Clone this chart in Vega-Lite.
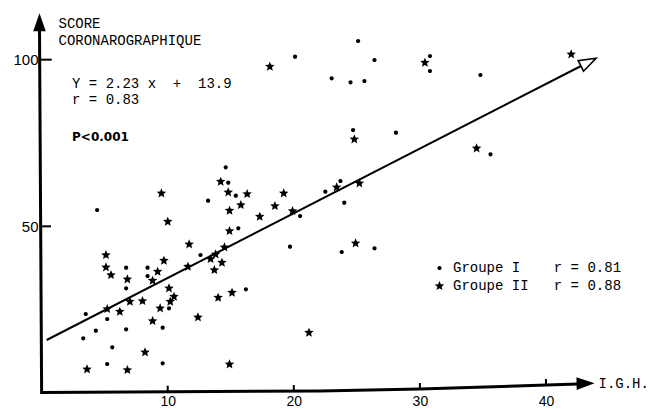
{
  "$schema": "https://vega.github.io/schema/vega-lite/v6.json",
  "width": 648,
  "height": 409,
  "autosize": {"type": "none"},
  "padding": 0,
  "background": "white",
  "config": {"view": {"stroke": null}, "axis": {"grid": false}},
  "datasets": {
    "points": [
      {"igh": 20.1, "score": 100.9, "groupe": "Groupe I"},
      {"igh": 25.1, "score": 105.6, "groupe": "Groupe I"},
      {"igh": 26.4, "score": 99.9, "groupe": "Groupe I"},
      {"igh": 23.0, "score": 94.4, "groupe": "Groupe I"},
      {"igh": 24.5, "score": 93.2, "groupe": "Groupe I"},
      {"igh": 25.6, "score": 93.6, "groupe": "Groupe I"},
      {"igh": 30.8, "score": 101.1, "groupe": "Groupe I"},
      {"igh": 30.8, "score": 96.6, "groupe": "Groupe I"},
      {"igh": 24.7, "score": 78.9, "groupe": "Groupe I"},
      {"igh": 28.1, "score": 78.1, "groupe": "Groupe I"},
      {"igh": 34.8, "score": 95.4, "groupe": "Groupe I"},
      {"igh": 35.6, "score": 71.6, "groupe": "Groupe I"},
      {"igh": 20.5, "score": 53.1, "groupe": "Groupe I"},
      {"igh": 22.5, "score": 60.4, "groupe": "Groupe I"},
      {"igh": 23.7, "score": 63.6, "groupe": "Groupe I"},
      {"igh": 24.0, "score": 57.1, "groupe": "Groupe I"},
      {"igh": 19.7, "score": 43.9, "groupe": "Groupe I"},
      {"igh": 23.8, "score": 42.3, "groupe": "Groupe I"},
      {"igh": 26.4, "score": 43.4, "groupe": "Groupe I"},
      {"igh": 14.6, "score": 67.7, "groupe": "Groupe I"},
      {"igh": 14.8, "score": 63.1, "groupe": "Groupe I"},
      {"igh": 15.4, "score": 59.2, "groupe": "Groupe I"},
      {"igh": 13.2, "score": 57.7, "groupe": "Groupe I"},
      {"igh": 15.6, "score": 49.4, "groupe": "Groupe I"},
      {"igh": 12.6, "score": 41.4, "groupe": "Groupe I"},
      {"igh": 4.4, "score": 54.9, "groupe": "Groupe I"},
      {"igh": 8.4, "score": 37.6, "groupe": "Groupe I"},
      {"igh": 8.4, "score": 35.1, "groupe": "Groupe I"},
      {"igh": 6.7, "score": 37.6, "groupe": "Groupe I"},
      {"igh": 6.7, "score": 31.4, "groupe": "Groupe I"},
      {"igh": 10.1, "score": 25.4, "groupe": "Groupe I"},
      {"igh": 9.6, "score": 19.6, "groupe": "Groupe I"},
      {"igh": 6.7, "score": 19.1, "groupe": "Groupe I"},
      {"igh": 5.2, "score": 22.2, "groupe": "Groupe I"},
      {"igh": 3.5, "score": 23.7, "groupe": "Groupe I"},
      {"igh": 3.3, "score": 16.4, "groupe": "Groupe I"},
      {"igh": 4.3, "score": 18.7, "groupe": "Groupe I"},
      {"igh": 5.6, "score": 13.7, "groupe": "Groupe I"},
      {"igh": 5.2, "score": 8.7, "groupe": "Groupe I"},
      {"igh": 9.6, "score": 8.9, "groupe": "Groupe I"},
      {"igh": 16.2, "score": 31.1, "groupe": "Groupe I"},
      {"igh": 18.1, "score": 97.9, "groupe": "Groupe II"},
      {"igh": 30.4, "score": 99.1, "groupe": "Groupe II"},
      {"igh": 24.8, "score": 76.1, "groupe": "Groupe II"},
      {"igh": 42.0, "score": 101.6, "groupe": "Groupe II"},
      {"igh": 34.5, "score": 73.4, "groupe": "Groupe II"},
      {"igh": 17.3, "score": 52.9, "groupe": "Groupe II"},
      {"igh": 18.5, "score": 56.1, "groupe": "Groupe II"},
      {"igh": 19.2, "score": 59.9, "groupe": "Groupe II"},
      {"igh": 19.9, "score": 54.6, "groupe": "Groupe II"},
      {"igh": 23.4, "score": 61.7, "groupe": "Groupe II"},
      {"igh": 25.2, "score": 62.9, "groupe": "Groupe II"},
      {"igh": 24.9, "score": 44.9, "groupe": "Groupe II"},
      {"igh": 21.2, "score": 18.1, "groupe": "Groupe II"},
      {"igh": 14.2, "score": 63.4, "groupe": "Groupe II"},
      {"igh": 9.5, "score": 59.9, "groupe": "Groupe II"},
      {"igh": 14.8, "score": 60.2, "groupe": "Groupe II"},
      {"igh": 16.3, "score": 59.7, "groupe": "Groupe II"},
      {"igh": 14.9, "score": 54.7, "groupe": "Groupe II"},
      {"igh": 15.8, "score": 56.4, "groupe": "Groupe II"},
      {"igh": 10.0, "score": 51.4, "groupe": "Groupe II"},
      {"igh": 14.9, "score": 48.6, "groupe": "Groupe II"},
      {"igh": 11.7, "score": 44.6, "groupe": "Groupe II"},
      {"igh": 14.5, "score": 43.7, "groupe": "Groupe II"},
      {"igh": 13.4, "score": 40.2, "groupe": "Groupe II"},
      {"igh": 13.8, "score": 41.6, "groupe": "Groupe II"},
      {"igh": 14.3, "score": 39.1, "groupe": "Groupe II"},
      {"igh": 13.7, "score": 36.9, "groupe": "Groupe II"},
      {"igh": 9.7, "score": 39.7, "groupe": "Groupe II"},
      {"igh": 9.2, "score": 36.4, "groupe": "Groupe II"},
      {"igh": 11.6, "score": 37.9, "groupe": "Groupe II"},
      {"igh": 8.8, "score": 33.7, "groupe": "Groupe II"},
      {"igh": 6.8, "score": 34.1, "groupe": "Groupe II"},
      {"igh": 5.1, "score": 41.4, "groupe": "Groupe II"},
      {"igh": 5.1, "score": 37.7, "groupe": "Groupe II"},
      {"igh": 5.5, "score": 35.4, "groupe": "Groupe II"},
      {"igh": 10.1, "score": 31.4, "groupe": "Groupe II"},
      {"igh": 10.5, "score": 28.9, "groupe": "Groupe II"},
      {"igh": 10.2, "score": 27.4, "groupe": "Groupe II"},
      {"igh": 9.4, "score": 25.4, "groupe": "Groupe II"},
      {"igh": 8.8, "score": 21.6, "groupe": "Groupe II"},
      {"igh": 8.0, "score": 27.6, "groupe": "Groupe II"},
      {"igh": 7.0, "score": 27.4, "groupe": "Groupe II"},
      {"igh": 6.2, "score": 24.4, "groupe": "Groupe II"},
      {"igh": 5.2, "score": 25.2, "groupe": "Groupe II"},
      {"igh": 8.2, "score": 12.2, "groupe": "Groupe II"},
      {"igh": 3.6, "score": 7.1, "groupe": "Groupe II"},
      {"igh": 6.8, "score": 6.9, "groupe": "Groupe II"},
      {"igh": 14.9, "score": 8.6, "groupe": "Groupe II"},
      {"igh": 12.4, "score": 22.7, "groupe": "Groupe II"},
      {"igh": 14.0, "score": 28.6, "groupe": "Groupe II"},
      {"igh": 15.1, "score": 30.1, "groupe": "Groupe II"}
    ],
    "axes": [
      {"axis": "x", "ord": 0, "igh": 0.03, "score": 0.15},
      {"axis": "x", "ord": 1, "igh": 22.08, "score": 0.6},
      {"axis": "x", "ord": 2, "igh": 30.0, "score": 1.2},
      {"axis": "x", "ord": 3, "igh": 42.54, "score": 2.7},
      {"axis": "y", "ord": 0, "igh": 0.0, "score": -0.3},
      {"axis": "y", "ord": 1, "igh": -0.17, "score": 108.9}
    ],
    "ticks": [
      {"igh": 10, "score": 0.4, "igh2": 10, "score2": 2.2},
      {"igh": 20, "score": 0.6, "igh2": 20, "score2": 2.4},
      {"igh": 30, "score": 1.2, "igh2": 30, "score2": 3.0},
      {"igh": 40, "score": 2.4, "igh2": 40, "score2": 4.2},
      {"igh": -0.19, "score": 100, "igh2": 0.8, "score2": 100},
      {"igh": 0, "score": 50, "igh2": 0.74, "score2": 50}
    ],
    "xarrow": [{"igh": 43.14, "score": 2.85}],
    "yarrow": [{"igh": -0.17, "score": 111.2}],
    "regression": [
      {"igh": 0.4, "score": 15.9},
      {"igh": 42.78, "score": 98.1}
    ],
    "regarrow": [{"igh": 43.37, "score": 99.27}],
    "notes": [
      {"igh": 2.41, "score": 92.7, "text": "Y = 2.23 x\u00a0\u00a0+\u00a0\u00a013.9"},
      {"igh": 2.41, "score": 88.05, "text": "r = 0.83"}
    ],
    "pnote": [{"igh": 2.41, "score": 76.8, "text": "P<0.001"}]
  },
  "encoding": {
    "x": {
      "field": "igh",
      "type": "quantitative",
      "scale": {"domain": [-3.303, 48.093], "nice": false, "zero": false},
      "axis": {
        "orient": "bottom",
        "offset": -16,
        "values": [10, 20, 30, 40],
        "domain": false,
        "ticks": false,
        "grid": false,
        "labelPadding": 1,
        "labelFont": "Liberation Sans",
        "labelFontSize": 14,
        "labelColor": "black",
        "labelFlush": false,
        "labelOverlap": false,
        "title": "I.G.H.",
        "titleFont": "Liberation Mono",
        "titleFontSize": 14,
        "titleFontWeight": "normal",
        "titleColor": "black",
        "titleX": 598,
        "titleY": -10,
        "titleAlign": "left",
        "titleBaseline": "middle",
        "titleAngle": 0
      }
    },
    "y": {
      "field": "score",
      "type": "quantitative",
      "scale": {"domain": [-4.8, 117.9], "nice": false, "zero": false},
      "axis": {
        "orient": "left",
        "offset": -41,
        "values": [50, 100],
        "domain": false,
        "ticks": false,
        "grid": false,
        "labelPadding": 3,
        "labelFont": "Liberation Sans",
        "labelFontSize": 15,
        "labelColor": "black",
        "labelFlush": false,
        "labelOverlap": false,
        "title": ["SCORE", "CORONAROGRAPHIQUE"],
        "titleFont": "Liberation Mono",
        "titleFontSize": 14,
        "titleFontWeight": "normal",
        "titleColor": "black",
        "titleAngle": 0,
        "titleX": 17,
        "titleY": 16,
        "titleAlign": "left",
        "titleBaseline": "top",
        "titleLineHeight": 17
      }
    }
  },
  "layer": [
    {
      "data": {"name": "axes"},
      "mark": {"type": "line", "color": "black", "strokeWidth": 3},
      "encoding": {
        "detail": {"field": "axis", "type": "nominal"},
        "order": {"field": "ord", "type": "quantitative"}
      }
    },
    {
      "data": {"name": "ticks"},
      "mark": {"type": "rule", "color": "black", "strokeWidth": 2},
      "encoding": {
        "x2": {"field": "igh2"},
        "y2": {"field": "score2"}
      }
    },
    {
      "data": {"name": "xarrow"},
      "mark": {"type": "point", "shape": "M1,0L-1,-0.7L-1,0.7Z", "size": 324, "filled": true, "color": "black", "opacity": 1, "angle": -1}
    },
    {
      "data": {"name": "yarrow"},
      "mark": {"type": "point", "shape": "M1,0L-1,-0.7L-1,0.7Z", "size": 324, "filled": true, "color": "black", "opacity": 1, "angle": -90}
    },
    {
      "data": {"name": "regression"},
      "mark": {"type": "line", "color": "black", "strokeWidth": 2}
    },
    {
      "data": {"name": "regarrow"},
      "mark": {"type": "point", "shape": "M1,0L-1,-0.7L-1,0.7Z", "size": 289, "filled": true, "fill": "white", "stroke": "black", "strokeWidth": 1.6, "opacity": 1, "angle": -26.6}
    },
    {
      "data": {"name": "points"},
      "mark": {"type": "point", "filled": true, "color": "black", "opacity": 1, "size": 100},
      "encoding": {
        "shape": {
          "field": "groupe",
          "type": "nominal",
          "scale": {
            "domain": ["Groupe I", "Groupe II"],
            "range": [
              "M0.42,0A0.42,0.42,0,1,1,-0.42,0A0.42,0.42,0,1,1,0.42,0Z",
              "M0,-1L0.265,-0.364L0.951,-0.309L0.428,0.139L0.588,0.809L0,0.45L-0.588,0.809L-0.428,0.139L-0.951,-0.309L-0.265,-0.364Z"
            ]
          },
          "legend": {
            "orient": "none",
            "legendX": 432.5,
            "legendY": 261,
            "title": null,
            "padding": 0,
            "symbolSize": 100,
            "symbolFillColor": "black",
            "symbolStrokeColor": "black",
            "symbolStrokeWidth": 0,
            "symbolOpacity": 1,
            "labelFont": "Liberation Mono",
            "labelFontSize": 14,
            "labelColor": "black",
            "labelOffset": 6.5,
            "labelLimit": 400,
            "rowPadding": 4,
            "labelExpr": "datum.label == 'Groupe I' ? 'Groupe I\u00a0\u00a0\u00a0\u00a0r = 0.81' : 'Groupe II\u00a0\u00a0\u00a0r = 0.88'"
          }
        }
      }
    },
    {
      "data": {"name": "notes"},
      "mark": {"type": "text", "align": "left", "baseline": "middle", "font": "Liberation Mono", "fontSize": 14, "color": "black"},
      "encoding": {"text": {"field": "text"}}
    },
    {
      "data": {"name": "pnote"},
      "mark": {"type": "text", "align": "left", "baseline": "middle", "font": "DejaVu Sans", "fontWeight": "bold", "fontSize": 12, "color": "black"},
      "encoding": {"text": {"field": "text"}}
    }
  ]
}
